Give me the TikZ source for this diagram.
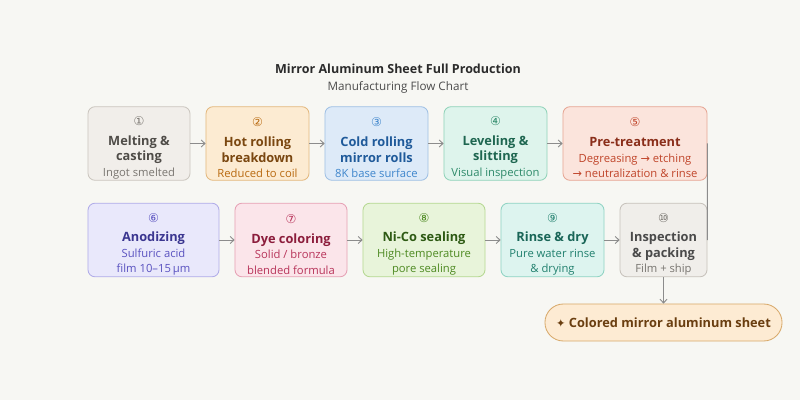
\documentclass[tikz,border=0pt]{standalone}
\usepackage{fontspec}
\setmainfont{Open Sans}
\newfontfamily\symfont{DejaVu Sans}
\usepackage{xcolor}
\usetikzlibrary{arrows.meta}

\definecolor{pagebg}{HTML}{F7F7F3}
\definecolor{headtext}{HTML}{2B2B2B}
\definecolor{arrowgray}{HTML}{8C8C8C}
% one colour set per stage: fill, border, title, small text
\definecolor{meltfill}{HTML}{F1EEEA}\definecolor{meltline}{HTML}{CBC6BF}\definecolor{melttext}{HTML}{4F4C48}\definecolor{meltsub}{HTML}{7A7671}
\definecolor{hotfill}{HTML}{FCEBD2}\definecolor{hotline}{HTML}{E3B87E}\definecolor{hottext}{HTML}{7A4710}\definecolor{hotsub}{HTML}{B8690F}
\definecolor{coldfill}{HTML}{DDEAF8}\definecolor{coldline}{HTML}{9FC0E4}\definecolor{coldtext}{HTML}{1F5A9A}\definecolor{coldsub}{HTML}{3F86CC}
\definecolor{levelfill}{HTML}{DEF4EC}\definecolor{levelline}{HTML}{90D3B9}\definecolor{leveltext}{HTML}{1E6650}\definecolor{levelsub}{HTML}{2E8A6A}
\definecolor{pretfill}{HTML}{FBE4DC}\definecolor{pretline}{HTML}{E6A694}\definecolor{prettext}{HTML}{8A2E1A}\definecolor{pretsub}{HTML}{C0452A}
\definecolor{anodfill}{HTML}{E9E8FB}\definecolor{anodline}{HTML}{B0ABE8}\definecolor{anodtext}{HTML}{3B3690}\definecolor{anodsub}{HTML}{5A52C0}
\definecolor{dyefill}{HTML}{FBE5EA}\definecolor{dyeline}{HTML}{E6A1B4}\definecolor{dyetext}{HTML}{8C1D3C}\definecolor{dyesub}{HTML}{B8345A}
\definecolor{sealfill}{HTML}{E8F4DA}\definecolor{sealline}{HTML}{B5D891}\definecolor{sealtext}{HTML}{2E5A14}\definecolor{sealsub}{HTML}{4E8A22}
\definecolor{rinsefill}{HTML}{DDF4EF}\definecolor{rinseline}{HTML}{8FD3C3}\definecolor{rinsetext}{HTML}{1A6658}\definecolor{rinsesub}{HTML}{21806E}
\definecolor{packfill}{HTML}{F0EEEA}\definecolor{packline}{HTML}{C7C2BB}\definecolor{packtext}{HTML}{4A4A4A}\definecolor{packsub}{HTML}{787570}
\definecolor{endfill}{HTML}{FDEBD3}\definecolor{endline}{HTML}{D8A96A}\definecolor{endtext}{HTML}{6A3E10}

\newcommand{\stagenum}[1]{\rule{0pt}{12.5pt}{\symfont\fontsize{8.6}{11}\selectfont #1}}
\newcommand{\stagetitle}[1]{{\fontsize{9.1}{11}\selectfont\bfseries #1}}
\newcommand{\stagesub}[1]{{\fontsize{8}{11}\selectfont #1}}
\newcommand{\symarrow}{{\symfont →}}

\begin{document}
\begin{tikzpicture}[x=0.025cm,y=-0.025cm,
    stage/.style={draw, rounded corners=5pt, line width=0.6pt, align=center,
      inner sep=0pt, minimum height=1.84cm, font=\fontsize{8}{11}\selectfont},
    flow/.style={draw=arrowgray, line width=0.7pt, -{Straight Barb[length=2.6pt,width=5pt]}}]
      \fill[pagebg] (0,0) rectangle (800,400);
      \node[text=headtext, font=\fontsize{8.9}{11}\selectfont\bfseries] (title) at (398,69) {Mirror Aluminum Sheet Full Production};
      \node[text=headtext!85, font=\fontsize{8.3}{11}\selectfont] (subtitle) at (398,87) {Manufacturing Flow Chart};
      % first row
      \node[stage, fill=meltfill, draw=meltline, text=melttext, minimum width=2.55cm] (melt) at (139,143.5)
        {\textcolor{meltsub}{\stagenum{①}}\\[3pt]\stagetitle{Melting \&}\\\stagetitle{casting}\\\textcolor{meltsub}{\stagesub{Ingot smelted}}};
      \node[stage, fill=hotfill, draw=hotline, text=hottext, minimum width=2.575cm] (hot) at (257.5,143.5)
        {\textcolor{hotsub}{\stagenum{②}}\\[3pt]\stagetitle{Hot rolling}\\\stagetitle{breakdown}\\\textcolor{hotsub}{\stagesub{Reduced to coil}}};
      \node[stage, fill=coldfill, draw=coldline, text=coldtext, minimum width=2.575cm] (cold) at (376.5,143.5)
        {\textcolor{coldsub}{\stagenum{③}}\\[3pt]\stagetitle{Cold rolling}\\\stagetitle{mirror rolls}\\\textcolor{coldsub}{\stagesub{8K base surface}}};
      \node[stage, fill=levelfill, draw=levelline, text=leveltext, minimum width=2.575cm] (level) at (495.5,143.5)
        {\textcolor{levelsub}{\stagenum{④}}\\[3pt]\stagetitle{Leveling \&}\\\stagetitle{slitting}\\\textcolor{levelsub}{\stagesub{Visual inspection}}};
      \node[stage, fill=pretfill, draw=pretline, text=prettext, minimum width=3.6cm] (pret) at (635,143.5)
        {\textcolor{pretsub}{\stagenum{⑤}}\\[3pt]\stagetitle{Pre-treatment}\\\textcolor{pretsub}{\stagesub{Degreasing \symarrow{} etching}}\\\textcolor{pretsub}{\stagesub{\symarrow{} neutralization \& rinse}}};
      % second row
      \node[stage, fill=anodfill, draw=anodline, text=anodtext, minimum width=3.275cm] (anod) at (153.5,240)
        {\textcolor{anodsub}{\stagenum{⑥}}\\[3pt]\stagetitle{Anodizing}\\\textcolor{anodsub}{\stagesub{Sulfuric acid}}\\\textcolor{anodsub}{\stagesub{film 10–15\,μm}}};
      \node[stage, fill=dyefill, draw=dyeline, text=dyetext, minimum width=2.8cm] (dye) at (291,240)
        {\textcolor{dyesub}{\stagenum{⑦}}\\[3pt]\stagetitle{Dye coloring}\\\textcolor{dyesub}{\stagesub{Solid / bronze}}\\\textcolor{dyesub}{\stagesub{blended formula}}};
      \node[stage, fill=sealfill, draw=sealline, text=sealtext, minimum width=3.05cm] (seal) at (424,240)
        {\textcolor{sealsub}{\stagenum{⑧}}\\[3pt]\stagetitle{Ni-Co sealing}\\\textcolor{sealsub}{\stagesub{High-temperature}}\\\textcolor{sealsub}{\stagesub{pore sealing}}};
      \node[stage, fill=rinsefill, draw=rinseline, text=rinsetext, minimum width=2.575cm] (rinse) at (552.5,240)
        {\textcolor{rinsesub}{\stagenum{⑨}}\\[3pt]\stagetitle{Rinse \& dry}\\\textcolor{rinsesub}{\stagesub{Pure water rinse}}\\\textcolor{rinsesub}{\stagesub{\& drying}}};
      \node[stage, fill=packfill, draw=packline, text=packtext, minimum width=2.175cm] (pack) at (663.5,240)
        {\textcolor{packsub}{\stagenum{⑩}}\\[3pt]\stagetitle{Inspection}\\\stagetitle{\& packing}\\\textcolor{packsub}{\stagesub{Film + ship}}};
      % result
      \node[draw=endline, fill=endfill, text=endtext, line width=0.6pt, rounded corners=0.46cm,
        minimum width=5.925cm, minimum height=0.925cm, font=\fontsize{9.1}{11}\selectfont\bfseries] (sheet) at (663.5,322.5)
        {{\symfont\fontsize{8}{11}\selectfont ✦}\ Colored mirror aluminum sheet};
      \draw[flow] (melt) -- (hot);
      \draw[flow] (hot) -- (cold);
      \draw[flow] (cold) -- (level);
      \draw[flow] (level) -- (pret);
      \draw[draw=arrowgray, line width=0.7pt] (pret.east) -- (pack.east);
      \draw[flow] (anod) -- (dye);
      \draw[flow] (dye) -- (seal);
      \draw[flow] (seal) -- (rinse);
      \draw[flow] (rinse) -- (pack);
      \draw[flow] (pack) -- (sheet);
\end{tikzpicture}
\end{document}
